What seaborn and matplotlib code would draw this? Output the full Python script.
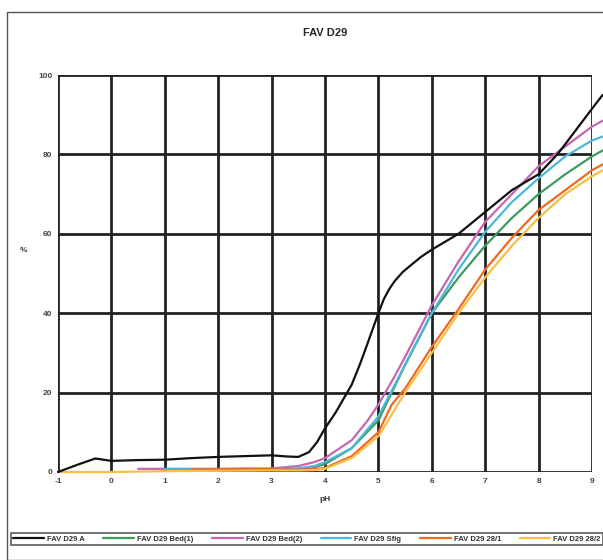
import pandas as pd
import matplotlib
matplotlib.use("Agg")
import matplotlib.pyplot as plt
import matplotlib.patches as mpatches
import seaborn as sns

# curves (pH vs cumulative %)
x_a = [-1, -0.8, -0.6, -0.3, 0, 0.5, 1, 1.5, 2, 2.5, 3, 3.3, 3.5, 3.7, 3.85, 4, 4.2, 4.35, 4.5, 4.65, 4.8, 5, 5.1, 5.2, 5.3, 5.45, 5.6, 5.8, 6, 6.5, 7, 7.5, 8, 8.35, 8.5, 9, 9.2]
y_a = [0, 1, 2, 3.4, 2.8, 3, 3.1, 3.5, 3.8, 4, 4.2, 3.9, 3.8, 5, 7.5, 11, 15, 18.5, 22, 27, 32.5, 40, 43.5, 46, 48, 50.3, 52, 54.2, 56, 60, 65.5, 71, 75, 80, 82.6, 91.5, 95]

x_b1 = [2.5, 3, 3.5, 3.8, 4, 4.5, 5, 5.5, 6, 6.5, 7, 7.5, 8, 8.5, 9, 9.2]
y_b1 = [0.6, 0.6, 0.8, 1.2, 2, 6, 13, 27, 40, 49, 57, 64, 70, 75, 79.5, 81]

x_b2 = [0.5, 1, 2, 3, 3.5, 3.8, 4, 4.5, 4.8, 5, 5.3, 5.5, 6, 6.5, 7, 7.5, 8, 8.5, 9, 9.2]
y_b2 = [0.8, 0.8, 0.8, 0.9, 1.5, 2.5, 3.5, 8, 13, 17, 24, 29, 42, 53, 63, 70, 77, 82, 87, 88.5]

x_sf = [1, 1.5, 2, 3, 3.5, 3.8, 4, 4.5, 5, 5.5, 6, 6.5, 7, 7.5, 8, 8.5, 9, 9.2]
y_sf = [0.7, 0.7, 0.7, 0.7, 0.9, 1.5, 2.5, 6, 14, 27, 40, 51, 60.5, 68, 74, 79.5, 83.5, 84.5]

x_281 = [1.5, 2, 2.5, 3, 3.5, 3.8, 4, 4.5, 5, 5.25, 5.5, 6, 6.5, 7, 7.5, 8, 8.5, 9, 9.2]
y_281 = [0.6, 0.7, 0.8, 0.7, 0.6, 0.7, 1, 4, 10, 17, 21, 31.5, 41, 51, 59, 66, 71, 76, 77.5]

x_282 = [-1, 0, 1, 2, 3, 3.5, 3.8, 4, 4.5, 5, 5.5, 6, 6.5, 7, 7.5, 8, 8.5, 9, 9.2]
y_282 = [0, 0, 0.2, 0.3, 0.4, 0.4, 0.5, 0.8, 3.5, 9, 20, 30, 40, 49, 57, 64, 70, 74.5, 76]

names = ["FAV D29 A", "FAV D29 Bed(1)", "FAV D29 Bed(2)", "FAV D29 Sfig", "FAV D29 28/1", "FAV D29 28/2"]
colors = ["#111111", "#3e9a5c", "#c765b3", "#49b8dc", "#ee6a22", "#f6bf45"]
series = [(x_a, y_a), (x_b1, y_b1), (x_b2, y_b2), (x_sf, y_sf), (x_281, y_281), (x_282, y_282)]

frames = []
for n, (xs, ys) in zip(names, series):
    frames.append(pd.DataFrame({"pH": xs, "pct": ys, "serie": n}))
df = pd.concat(frames, ignore_index=True)

sns.set_style("white")
plt.rcParams['font.family'] = ['Liberation Sans', 'DejaVu Sans']

fig = plt.figure(figsize=(6.03, 5.6), dpi=100)
ax = fig.add_axes([58/603, 1-472/560, (592-58)/603, (472-75)/560])

sns.lineplot(data=df, x="pH", y="pct", hue="serie", hue_order=names,
             palette=colors, sort=False, linewidth=1.6, legend=False, ax=ax)
# lines run a bit past the last grid line like in the original
for line in ax.lines:
    line.set_clip_on(False)
    line.set_solid_joinstyle("round")
ax.lines[0].set_zorder(5)

ax.set_xlim(-1, 9)
ax.set_ylim(0, 100)
ax.set_xticks(range(-1, 10))
ax.set_xticklabels([str(v) for v in range(-1, 10)])
ax.set_yticks([0, 20, 40, 60, 80, 100])
ax.grid(True, color="#222222", linewidth=2)
ax.set_axisbelow(True)
for s in ax.spines.values():
    s.set_visible(False)
ax.tick_params(length=0, labelsize=6, colors="#444444", pad=4)
for t in ax.get_xticklabels() + ax.get_yticklabels():
    t.set_fontweight("bold")
ax.set_xlabel("pH", fontsize=6, fontweight="bold", color="#333333", labelpad=8)
ax.set_ylabel("%", fontsize=6, fontweight="bold", color="#333333", rotation=0, labelpad=14)
ax.yaxis.set_label_coords(-0.065, 0.55)

fig.text(325/603, 1-33/560, "FAV D29", ha="center", va="center", fontsize=8, fontweight="bold")

# outer chart border
fig.patches.append(mpatches.Rectangle((7/603, 0), 1, 1-12/560, transform=fig.transFigure,
                                      fill=False, edgecolor="#555555", linewidth=1))

handles = [plt.Line2D([], [], color=c, linewidth=1.6) for c in colors]
leg = fig.legend(handles, names, loc="lower left", ncol=6, mode="expand",
                 bbox_to_anchor=(11/603, 1-545/560, 592/603, 18/560),
                 fontsize=5.5, frameon=True, fancybox=False, handlelength=4,
                 borderpad=0.3, handletextpad=0.4, borderaxespad=0)
leg.get_frame().set_edgecolor("#333333")
leg.get_frame().set_linewidth(1.2)
for t in leg.get_texts():
    t.set_fontweight("bold")
    t.set_color("#333333")

plt.savefig("out.png", dpi=100)
